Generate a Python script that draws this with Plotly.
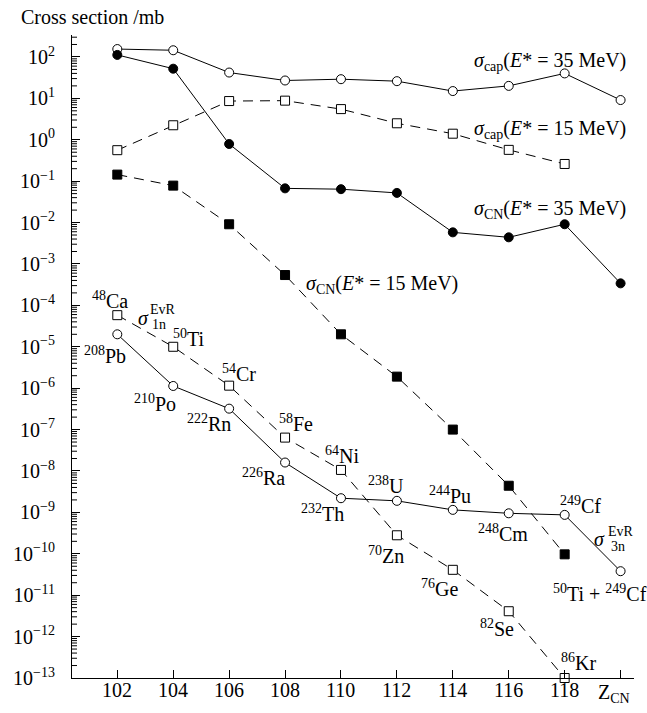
import numpy as np
import plotly.graph_objects as go

# Compound-nucleus charge
z_all = [102, 104, 106, 108, 110, 112, 114, 116, 118, 120]
z_to118 = [102, 104, 106, 108, 110, 112, 114, 116, 118]
z_tick_labels = ["102", "104", "106", "108", "110", "112", "114", "116", "118"]

# Cross sections in mb
sig_cap_35 = [155, 145, 42, 27, 29, 26, 15, 20, 40, 9.1]
sig_cap_15 = [0.56, 2.24, 8.6, 8.8, 5.5, 2.5, 1.4, 0.57, 0.26]
sig_cn_35 = [112, 52, 0.79, 0.067, 0.064, 0.052, 0.0058, 0.0044, 0.0091, 3.4e-4]
sig_cn_15 = [0.144, 0.078, 0.0091, 5.4e-4, 2.0e-5, 1.9e-6, 1.0e-7, 4.4e-9, 9.7e-11]
sig_1n_evr = [5.8e-5, 1.0e-5, 1.15e-6, 6.4e-8, 1.06e-8, 2.8e-10, 4.1e-11, 4.1e-12, 1.0e-13]
sig_3n_evr = [2.0e-5, 1.13e-6, 3.2e-7, 1.6e-8, 2.2e-9, 1.9e-9, 1.15e-9, 9.5e-10, 8.7e-10, 3.8e-11]

# Axis ranges and decade ticks
X_RANGE = [100.38, 120.48]
Y_LOG_RANGE = [-13, 2.53]
y_exponents = list(range(2, -14, -1))
minor_vals = [k * 10.0 ** e for e in range(-13, 3) for k in range(2, 10)
              if np.log10(k * 10.0 ** e) < Y_LOG_RANGE[1]]

FONT = "Liberation Serif"
DASH = "10px,7px"
LBL = 20
PLOT_W, PLOT_H = 562, 643

fig = go.Figure()

# Minor log ticks drawn inward from the y axis
minor_len = 5 * (X_RANGE[1] - X_RANGE[0]) / PLOT_W
mx, my = [], []
for v in minor_vals:
    mx += [X_RANGE[0], X_RANGE[0] + minor_len, None]
    my += [v, v, None]
fig.add_trace(go.Scatter(x=mx, y=my, mode="lines", line=dict(color="black", width=1),
                         hoverinfo="skip", showlegend=False, cliponaxis=False))

def add_series(x, y, symbol, dash):
    fill = "white" if symbol.endswith("-open") else "black"
    base = symbol.replace("-open", "")
    fig.add_trace(go.Scatter(
        x=x, y=y, mode="lines+markers",
        line=dict(color="black", width=1, dash=dash),
        marker=dict(symbol=base, size=9, color=fill, line=dict(color="black", width=1)),
        showlegend=False, cliponaxis=False,
    ))

add_series(z_all, sig_cap_35, "circle-open", "solid")
add_series(z_to118, sig_cap_15, "square-open", DASH)
add_series(z_all, sig_cn_35, "circle", "solid")
add_series(z_to118, sig_cn_15, "square", DASH)
add_series(z_to118, sig_1n_evr, "square-open", DASH)
add_series(z_all, sig_3n_evr, "circle-open", "solid")

def label(x, ylog, text, size=LBL, xanchor="center"):
    fig.add_annotation(x=x, y=ylog, xref="x", yref="y", text=text, showarrow=False,
                       xanchor=xanchor, yanchor="middle",
                       font=dict(family=FONT, size=size, color="black"))

# Series labels
label(120.27, 1.88, "<i>σ</i><sub>cap</sub>(<i>E</i>* = 35 MeV)", xanchor="right")
label(120.27, 0.237, "<i>σ</i><sub>cap</sub>(<i>E</i>* = 15 MeV)", xanchor="right")
label(120.27, -1.696, "<i>σ</i><sub>CN</sub>(<i>E</i>* = 35 MeV)", xanchor="right")
label(108.68, -3.507, "<i>σ</i><sub>CN</sub>(<i>E</i>* = 15 MeV)", xanchor="left")

# Evaporation-residue labels with stacked indices
label(102.93, -4.30, "<i>σ</i>")
label(103.50, -4.47, "1n", size=14)
label(103.62, -4.09, "EvR", size=14)
label(119.26, -9.64, "<i>σ</i>")
label(119.89, -9.83, "3n", size=14)
label(120.00, -9.45, "EvR", size=14)

# Projectiles (upper chain)
label(101.75, -3.87, "<sup>48</sup>Ca")
label(104.57, -4.79, "<sup>50</sup>Ti")
label(106.36, -5.63, "<sup>54</sup>Cr")
label(108.38, -6.84, "<sup>58</sup>Fe")
label(110.04, -7.61, "<sup>64</sup>Ni")
label(111.61, -10.03, "<sup>70</sup>Zn")
label(113.53, -10.83, "<sup>76</sup>Ge")
label(115.58, -11.79, "<sup>82</sup>Se")
label(118.49, -12.61, "<sup>86</sup>Kr")

# Targets (lower chain)
label(101.55, -5.20, "<sup>208</sup>Pb")
label(103.36, -6.36, "<sup>210</sup>Po")
label(105.29, -6.84, "<sup>222</sup>Rn")
label(107.22, -8.14, "<sup>226</sup>Ra")
label(109.33, -9.01, "<sup>232</sup>Th")
label(111.60, -8.34, "<sup>238</sup>U")
label(113.90, -8.58, "<sup>244</sup>Pu")
label(115.80, -9.50, "<sup>248</sup>Cm")
label(118.57, -8.82, "<sup>249</sup>Cf")
label(119.26, -10.95, "<sup>50</sup>Ti + <sup>249</sup>Cf")

# Z tick numbers just under the axis line
for z, t in zip(z_to118, z_tick_labels):
    fig.add_annotation(x=z, y=-12 / PLOT_H, xref="x", yref="paper", text=t, showarrow=False,
                       xanchor="center", yanchor="middle",
                       font=dict(family=FONT, size=20, color="black"))

# Axis captions (paper coordinates, outside the plotting area)
fig.add_annotation(x=(614 - 72) / PLOT_W, y=-(693 - 678) / PLOT_H, xref="paper", yref="paper",
                   text="Z<sub>CN</sub>", showarrow=False, xanchor="center", yanchor="middle",
                   font=dict(family=FONT, size=LBL, color="black"))
fig.add_annotation(x=(19 - 72) / PLOT_W, y=1 + (35 - 17) / PLOT_H, xref="paper", yref="paper",
                   text="Cross section /mb", showarrow=False, xanchor="left", yanchor="middle",
                   font=dict(family=FONT, size=LBL, color="black"))

fig.update_layout(
    width=647, height=713,
    margin=dict(l=72, r=13, t=35, b=35),
    plot_bgcolor="white", paper_bgcolor="white",
    font=dict(family=FONT, size=LBL, color="black"),
    xaxis=dict(
        range=X_RANGE, tickmode="array", tickvals=z_all, showticklabels=False,
        ticks="inside", ticklen=8, tickwidth=1, tickcolor="black",
        showline=True, linecolor="black", linewidth=1, showgrid=False, zeroline=False,
        automargin=False,
    ),
    yaxis=dict(
        type="log", range=Y_LOG_RANGE, tickmode="array",
        tickvals=[10.0 ** e for e in y_exponents],
        ticktext=["10<sup>" + str(e).replace("-", "−") + "</sup>" for e in y_exponents],
        ticks="inside", ticklen=8, tickwidth=1, tickcolor="black",
        showline=True, linecolor="black", linewidth=1, showgrid=False, zeroline=False,
        tickfont=dict(family=FONT, size=20), ticklabelstandoff=12, automargin=False,
    ),
)

fig.write_html("out.html")
